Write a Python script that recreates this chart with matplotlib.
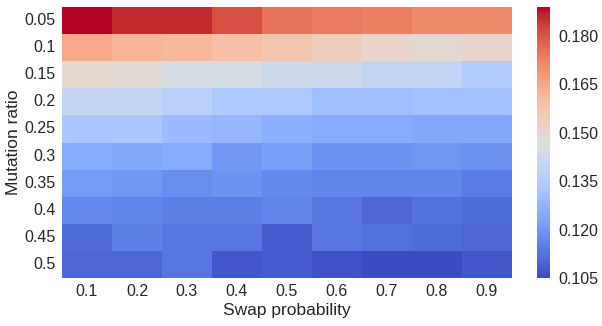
import matplotlib
matplotlib.use("Agg")
from matplotlib import pyplot as plt
import seaborn as sns
import numpy as np
import pandas as pd

swap_prob = ["0.1", "0.2", "0.3", "0.4", "0.5", "0.6", "0.7", "0.8", "0.9"]
mutation_ratio = ["0.05", "0.1", "0.15", "0.2", "0.25", "0.3", "0.35", "0.4", "0.45", "0.5"]

# values, one list per mutation ratio
r005 = [0.189, 0.186, 0.186, 0.181, 0.175, 0.174, 0.173, 0.171, 0.171]
r010 = [0.165, 0.162, 0.161, 0.159, 0.157, 0.154, 0.151, 0.149, 0.151]
r015 = [0.150, 0.149, 0.145, 0.145, 0.142, 0.142, 0.139, 0.139, 0.135]
r020 = [0.140, 0.140, 0.137, 0.134, 0.134, 0.130, 0.130, 0.131, 0.131]
r025 = [0.133, 0.133, 0.129, 0.128, 0.126, 0.125, 0.125, 0.124, 0.124]
r030 = [0.125, 0.124, 0.125, 0.120, 0.122, 0.119, 0.119, 0.120, 0.119]
r035 = [0.121, 0.120, 0.118, 0.119, 0.117, 0.116, 0.116, 0.116, 0.114]
r040 = [0.117, 0.116, 0.115, 0.115, 0.116, 0.113, 0.110, 0.112, 0.111]
r045 = [0.111, 0.115, 0.113, 0.113, 0.108, 0.113, 0.112, 0.111, 0.110]
r050 = [0.110, 0.110, 0.113, 0.107, 0.108, 0.106, 0.105, 0.105, 0.107]

df = pd.DataFrame(
    [r005, r010, r015, r020, r025, r030, r035, r040, r045, r050],
    index=mutation_ratio, columns=swap_prob,
)

sns.set_style("white")
plt.rcParams["font.family"] = ["Liberation Sans", "DejaVu Sans"]

fig = plt.figure(figsize=(6.02, 3.26), dpi=100)
ax = fig.add_axes([62 / 602, 1 - 278 / 326, 450 / 602, 271 / 326])
cax = fig.add_axes([537 / 602, 1 - 278 / 326, 13 / 602, 271 / 326])

sns.heatmap(df, cmap="coolwarm", ax=ax, cbar_ax=cax,
            cbar_kws={"ticks": [0.105, 0.120, 0.135, 0.150, 0.165, 0.180]})

ax.set_xlabel("Swap probability", fontsize=12.5, color="#262626")
ax.set_ylabel("Mutation ratio", fontsize=12.5, color="#262626")
ax.yaxis.set_label_coords(-0.092, 0.5)
ax.xaxis.set_label_coords(0.5, -0.092)
ax.tick_params(axis="both", length=0, labelsize=11.5, colors="#262626", pad=4.5)
ax.set_yticklabels(mutation_ratio, rotation=0)
ax.set_xticklabels(swap_prob, rotation=0)
cax.tick_params(length=0, labelsize=11.5, colors="#262626", pad=6)
cax.yaxis.set_major_formatter(matplotlib.ticker.FormatStrFormatter("%.3f"))
for s in cax.spines.values():
    s.set_visible(False)

plt.savefig("out.png", dpi=100)
